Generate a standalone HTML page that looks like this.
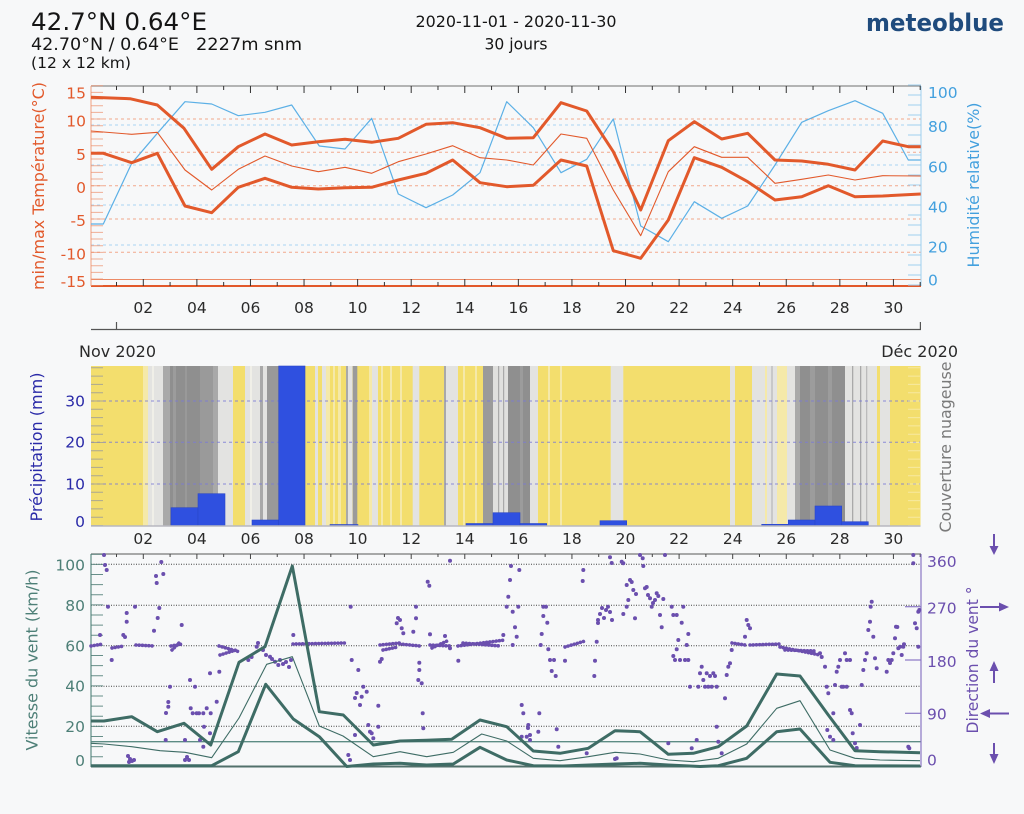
<!DOCTYPE html>
<html><head><meta charset="utf-8"><style>
html,body{margin:0;padding:0;background:#f7f8f9;}
svg{display:block;font-family:"DejaVu Sans","Liberation Sans",sans-serif;}
</style></head><body>
<svg width="1024" height="814" viewBox="0 0 1024 814" xmlns="http://www.w3.org/2000/svg">
<rect width="1024" height="814" fill="#f7f8f9"/>

<!-- HEADER -->
<text x="31" y="30" font-size="24" fill="#151515" textLength="176" lengthAdjust="spacingAndGlyphs">42.7°N 0.64°E</text>
<text x="31" y="50" font-size="17" fill="#151515" textLength="148" lengthAdjust="spacingAndGlyphs">42.70°N / 0.64°E</text>
<text x="196" y="50" font-size="17" fill="#151515" textLength="106" lengthAdjust="spacingAndGlyphs">2227m snm</text>
<text x="31" y="68" font-size="15" fill="#151515" textLength="100" lengthAdjust="spacingAndGlyphs">(12 x 12 km)</text>
<text x="516" y="27" font-size="16" fill="#151515" text-anchor="middle" textLength="201" lengthAdjust="spacingAndGlyphs">2020-11-01 - 2020-11-30</text>
<text x="516" y="49.5" font-size="16" fill="#151515" text-anchor="middle" textLength="63" lengthAdjust="spacingAndGlyphs">30 jours</text>
<text x="866" y="31" font-size="24" font-weight="bold" fill="#1f4b7d" textLength="138" lengthAdjust="spacingAndGlyphs">meteoblue</text>

<!-- ============ TOP CHART ============ -->
<g>
<g stroke="#f2a88c" stroke-width="1" stroke-dasharray="3 3">
<line x1="91" y1="119" x2="921" y2="119"/>
<line x1="91" y1="152.3" x2="921" y2="152.3"/>
<line x1="91" y1="185.7" x2="921" y2="185.7"/>
<line x1="91" y1="219" x2="921" y2="219"/>
<line x1="91" y1="252.3" x2="921" y2="252.3"/>
</g>
<g stroke="#a8d4f2" stroke-width="1" stroke-dasharray="3 3">
<line x1="91" y1="125" x2="921" y2="125"/>
<line x1="91" y1="165" x2="921" y2="165"/>
<line x1="91" y1="205" x2="921" y2="205"/>
<line x1="91" y1="245" x2="921" y2="245"/>
</g>
<line x1="91" y1="86" x2="921" y2="86" stroke="#8a8a8a" stroke-width="1.2"/>
<line x1="91" y1="279.5" x2="921" y2="279.5" stroke="#ec8a66" stroke-width="1"/>
<line x1="91" y1="286" x2="921" y2="286" stroke="#e2592b" stroke-width="2"/>
<line x1="91" y1="86" x2="91" y2="286" stroke="#f0a080" stroke-width="1"/>
<line x1="921" y1="86" x2="921" y2="286" stroke="#9fd0f0" stroke-width="1"/>
<line x1="97" y1="85.2" x2="97" y2="286" stroke="#ec8f6c" stroke-width="12" stroke-dasharray="1 5.667" opacity="0.7"/>
<line x1="914.5" y1="84.5" x2="914.5" y2="286" stroke="#9fd0f0" stroke-width="13" stroke-dasharray="1 9"/>
<line x1="142.8" y1="89.5" x2="921" y2="89.5" stroke="#333" stroke-width="7" stroke-dasharray="1 52.58"/>
<line x1="116" y1="88" x2="921" y2="88" stroke="#333" stroke-width="4" stroke-dasharray="1 52.58"/>
<line x1="142.8" y1="282.5" x2="921" y2="282.5" stroke="#333" stroke-width="7" stroke-dasharray="1 52.58"/>
<line x1="116" y1="284" x2="921" y2="284" stroke="#333" stroke-width="4" stroke-dasharray="1 52.58"/>

<polyline fill="none" stroke="#5cb0e6" stroke-width="1.2" stroke-linejoin="round" points="91,224 103.3,224 131.7,163.3 157.3,133.3 185,101.7 211.7,104 238.3,115.7 265,112.3 291.7,105 319.3,146 345,149 371.7,118.3 398.3,194 426,207.7 452.7,195 480,172.7 506.7,101.7 533.3,127.7 561,172.7 586.7,159.3 613.3,119 640.7,226 668.3,241.7 694.3,201.7 721.7,218.3 747.7,206 775,165 801.7,122.3 828.3,110.7 855,100.7 882.7,113.3 908.3,160 920.7,160"/>
<polyline fill="none" stroke="#e2592b" stroke-width="1.1" stroke-linejoin="round" points="91,131 131.7,134.3 157.3,132.3 185,170 211.7,190 238.3,169.3 265,156 291.7,166 318.3,171.7 345,167.3 371.7,173.3 398.3,161.7 426,154 452.7,145.7 480,157.7 506.7,160 533.3,165 561,134 586.7,138.3 613.3,190 640.7,235.7 668.3,171.7 694.3,146.7 721.7,157.3 747.7,157.3 775,183.3 801.7,179.3 828.3,175 855,180 882.7,175.7 920.7,176"/>
<polyline fill="none" stroke="#e2592b" stroke-width="3" stroke-linejoin="round" points="91,97.3 130,98.7 157.3,105 184,128.3 211.7,169.3 238.3,146.7 265,134 291.7,145 318.3,141.7 345,139.3 371.7,142.3 398.3,138.3 426,124.3 452.7,122.7 480,127.7 506.7,138.3 533.3,137.7 561,102.7 586.7,111 613.3,151.7 640.7,210 668.3,140.7 694.3,121.7 721.7,139 747.7,133.3 775,160 801.7,161 828.3,164.3 855,170 882.7,141 908.3,146.7 920.7,146.7"/>
<polyline fill="none" stroke="#e2592b" stroke-width="3" stroke-linejoin="round" points="91,153.3 103.3,153.3 131.7,162.7 157.3,153.3 185,206 211.7,212.7 238.3,187.3 265,178.3 291.7,187.3 318.3,189 345,187.7 371.7,187.3 398.3,180 426,173.3 452.7,160 480,182.7 506.7,186.7 533.3,185.3 561,160 586.7,166 613.3,250.7 640.7,258.3 668.3,220 694.3,157.7 721.7,167.3 747.7,181.7 775,200 801.7,196.7 828.3,185.7 855,196.7 882.7,196 920.7,194"/>

<g font-size="15.5" fill="#e2592b" text-anchor="end">
<text x="86" y="98.7">15</text>
<text x="86" y="126.7">10</text>
<text x="86" y="160">5</text>
<text x="86" y="193">0</text>
<text x="86" y="226">-5</text>
<text x="86" y="259.5">-10</text>
<text x="86" y="287">-15</text>
</g>
<g font-size="15.5" fill="#43a0de">
<text x="928" y="98">100</text>
<text x="928" y="132">80</text>
<text x="928" y="172.4">60</text>
<text x="928" y="212.4">40</text>
<text x="928" y="252.4">20</text>
<text x="928" y="285.4">0</text>
</g>
<text transform="translate(44,186) rotate(-90)" font-size="16" fill="#e2592b" text-anchor="middle" textLength="208" lengthAdjust="spacingAndGlyphs">min/max Température(°C)</text>
<text transform="translate(979,185) rotate(-90)" font-size="16" fill="#43a0de" text-anchor="middle" textLength="165" lengthAdjust="spacingAndGlyphs">Humidité relative(%)</text>
</g>

<g font-size="15.5" fill="#2a2a2a" text-anchor="middle">
<text x="143.3" y="313">02</text><text x="196.9" y="313">04</text><text x="250.5" y="313">06</text><text x="304" y="313">08</text><text x="357.6" y="313">10</text><text x="411.2" y="313">12</text><text x="464.8" y="313">14</text><text x="518.4" y="313">16</text><text x="571.9" y="313">18</text><text x="625.5" y="313">20</text><text x="679.1" y="313">22</text><text x="732.7" y="313">24</text><text x="786.3" y="313">26</text><text x="839.8" y="313">28</text><text x="893.4" y="313">30</text>
</g>
<line x1="91" y1="329.5" x2="921" y2="329.5" stroke="#555" stroke-width="1.2"/>
<line x1="116.5" y1="322" x2="116.5" y2="330" stroke="#555" stroke-width="1.2"/>
<line x1="920.4" y1="322" x2="920.4" y2="330" stroke="#555" stroke-width="1.2"/>
<text x="79" y="357" font-size="16" fill="#2a2a2a">Nov 2020</text>
<text x="958" y="357" font-size="16" fill="#2a2a2a" text-anchor="end">Déc 2020</text>

<!-- ============ MIDDLE CHART ============ -->
<g>
<rect x="91" y="366" width="829.5" height="160" fill="#f3de6d"/>
<g>
<rect x="143" y="366" width="5" height="160" fill="#f5e9a9"/>
<rect x="148" y="366" width="15" height="160" fill="#e3e3e1"/>
<rect x="152" y="366" width="2" height="160" fill="#f0efe8"/>
<rect x="163" y="366" width="7" height="160" fill="#a9a9a9"/>
<rect x="170" y="366" width="43" height="160" fill="#8f8f8f"/>
<rect x="173" y="366" width="3" height="160" fill="#9c9c9c"/>
<rect x="185" y="366" width="2" height="160" fill="#999"/>
<rect x="200" y="366" width="13" height="160" fill="#9a9a9a"/>
<rect x="213" y="366" width="5" height="160" fill="#a9a9a9"/>
<rect x="218" y="366" width="15" height="160" fill="#e3e3e1"/>
<rect x="245" y="366" width="15" height="160" fill="#e3e3e1"/>
<rect x="250" y="366" width="2" height="160" fill="#f0efe8"/>
<rect x="260" y="366" width="3" height="160" fill="#a9a9a9"/>
<rect x="263" y="366" width="4" height="160" fill="#e3e3e1"/>
<rect x="267" y="366" width="12" height="160" fill="#999"/>
<rect x="279" y="366" width="26" height="160" fill="#8f8f8f"/>
<rect x="315" y="366" width="3" height="160" fill="#e3e3e1"/>
<rect x="322" y="366" width="4" height="160" fill="#e3e3e1"/>
<rect x="326" y="366" width="4" height="160" fill="#f5e9a9"/>
<rect x="333" y="366" width="2" height="160" fill="#f5e9a9"/>
<rect x="338" y="366" width="3" height="160" fill="#f5e9a9"/>
<rect x="346" y="366" width="2" height="160" fill="#a9a9a9"/>
<rect x="348" y="366" width="4.5" height="160" fill="#e3e3e1"/>
<rect x="352.7" y="366" width="4.6" height="160" fill="#9a9a9a"/>
<rect x="369" y="366" width="3" height="160" fill="#f5e9a9"/>
<rect x="372" y="366" width="6" height="160" fill="#e3e3e1"/>
<rect x="381" y="366" width="2" height="160" fill="#f5e9a9"/>
<rect x="390" y="366" width="2" height="160" fill="#f5e9a9"/>
<rect x="400" y="366" width="2" height="160" fill="#f5e9a9"/>
<rect x="412.7" y="366" width="6.6" height="160" fill="#e3e3e1"/>
<rect x="444" y="366" width="2" height="160" fill="#a9a9a9"/>
<rect x="446" y="366" width="12" height="160" fill="#e3e3e1"/>
<rect x="463" y="366" width="2" height="160" fill="#f5e9a9"/>
<rect x="475" y="366" width="2" height="160" fill="#f5e9a9"/>
<rect x="483" y="366" width="10" height="160" fill="#9a9a9a"/>
<rect x="493" y="366" width="15" height="160" fill="#e0e0de"/>
<rect x="498" y="366" width="1.2" height="160" fill="#a9a9a9"/>
<rect x="503" y="366" width="1.2" height="160" fill="#a9a9a9"/>
<rect x="508" y="366" width="22" height="160" fill="#8f8f8f"/>
<rect x="520" y="366" width="3" height="160" fill="#9c9c9c"/>
<rect x="530" y="366" width="8" height="160" fill="#e3e3e1"/>
<rect x="548" y="366" width="2" height="160" fill="#f5e9a9"/>
<rect x="560" y="366" width="2" height="160" fill="#f5e9a9"/>
<rect x="610.7" y="366" width="12.6" height="160" fill="#e3e3e1"/>
<rect x="730" y="366" width="5" height="160" fill="#e3e3e1"/>
<rect x="752" y="366" width="10" height="160" fill="#e3e3e1"/>
<rect x="762" y="366" width="3" height="160" fill="#e3e3e1"/>
<rect x="765" y="366" width="2" height="160" fill="#f5e9a9"/>
<rect x="767" y="366" width="4" height="160" fill="#e3e3e1"/>
<rect x="771" y="366" width="2" height="160" fill="#c8c8c8"/>
<rect x="773" y="366" width="4" height="160" fill="#e3e3e1"/>
<rect x="777" y="366" width="10" height="160" fill="#f5e9a9"/>
<rect x="787" y="366" width="8" height="160" fill="#e3e3e1"/>
<rect x="795" y="366" width="5" height="160" fill="#a9a9a9"/>
<rect x="800" y="366" width="45" height="160" fill="#8f8f8f"/>
<rect x="810" y="366" width="5" height="160" fill="#9c9c9c"/>
<rect x="828" y="366" width="4" height="160" fill="#9c9c9c"/>
<rect x="845" y="366" width="32" height="160" fill="#e3e3e1"/>
<rect x="852" y="366" width="1.3" height="160" fill="#a9a9a9"/>
<rect x="860" y="366" width="1.3" height="160" fill="#a9a9a9"/>
<rect x="866" y="366" width="1.3" height="160" fill="#bbb"/>
<rect x="880" y="366" width="10" height="160" fill="#e3e3e1"/>
</g>
<g stroke="#7a7ad6" stroke-width="1" stroke-dasharray="3 3" opacity="0.85">
<line x1="91" y1="401" x2="920" y2="401"/>
<line x1="91" y1="442.3" x2="920" y2="442.3"/>
<line x1="91" y1="484" x2="920" y2="484"/>
</g>
<g fill="#2f50e0" stroke="#2a46c8" stroke-width="0.6">
<rect x="171" y="507.7" width="27" height="18"/>
<rect x="198" y="493.7" width="27" height="32"/>
<rect x="252" y="520" width="26.7" height="5.7"/>
<rect x="278.7" y="366" width="26.3" height="159.7"/>
<rect x="330" y="524.5" width="28" height="1.2"/>
<rect x="466" y="523.5" width="27" height="2.2"/>
<rect x="493" y="512.7" width="27" height="13"/>
<rect x="520" y="523.5" width="26.7" height="2.2"/>
<rect x="600" y="520.7" width="26.7" height="5"/>
<rect x="761.7" y="524.3" width="26.6" height="1.4"/>
<rect x="788.3" y="520" width="26.7" height="5.7"/>
<rect x="815" y="506" width="26.7" height="19.7"/>
<rect x="841.7" y="521.7" width="26.6" height="4"/>
</g>
<line x1="97" y1="367.3" x2="97" y2="526" stroke="#9a9a9a" stroke-width="12" stroke-dasharray="1 7.3" opacity="0.8"/>
<line x1="914" y1="367.3" x2="914" y2="526" stroke="#ffffff" stroke-width="12" stroke-dasharray="1 7.3" opacity="0.35"/>
<line x1="91" y1="526" x2="920.5" y2="526" stroke="#b8b8c0" stroke-width="1.5"/>
<g font-size="15.5" fill="#2a2aa8" text-anchor="end">
<text x="85" y="406.4">30</text>
<text x="85" y="447.7">20</text>
<text x="85" y="489.4">10</text>
<text x="85" y="527">0</text>
</g>
<text transform="translate(42,447) rotate(-90)" font-size="16" fill="#2a2aa8" text-anchor="middle" textLength="149" lengthAdjust="spacingAndGlyphs">Précipitation (mm)</text>
<text transform="translate(951,447) rotate(-90)" font-size="16" fill="#7a7a7a" text-anchor="middle" textLength="171" lengthAdjust="spacingAndGlyphs">Couverture nuageuse</text>
</g>
<g font-size="15.5" fill="#2a2a2a" text-anchor="middle">
<text x="143.3" y="544">02</text><text x="196.9" y="544">04</text><text x="250.5" y="544">06</text><text x="304" y="544">08</text><text x="357.6" y="544">10</text><text x="411.2" y="544">12</text><text x="464.8" y="544">14</text><text x="518.4" y="544">16</text><text x="571.9" y="544">18</text><text x="625.5" y="544">20</text><text x="679.1" y="544">22</text><text x="732.7" y="544">24</text><text x="786.3" y="544">26</text><text x="839.8" y="544">28</text><text x="893.4" y="544">30</text>
</g>

<!-- ============ BOTTOM CHART ============ -->
<g>
<g stroke="#444" stroke-width="1" stroke-dasharray="1 1.5">
<line x1="91" y1="564.3" x2="921" y2="564.3"/>
<line x1="91" y1="605.3" x2="921" y2="605.3"/>
<line x1="91" y1="645.8" x2="921" y2="645.8"/>
<line x1="91" y1="686.3" x2="921" y2="686.3"/>
<line x1="91" y1="726.3" x2="921" y2="726.3"/>
</g>
<line x1="91" y1="741.7" x2="921" y2="741.7" stroke="#5d8c84" stroke-width="1.4"/>
<line x1="91" y1="554" x2="921" y2="554" stroke="#777" stroke-width="1.2"/>
<line x1="142.8" y1="556.5" x2="921" y2="556.5" stroke="#444" stroke-width="5" stroke-dasharray="1 52.58"/>
<line x1="116" y1="555.5" x2="921" y2="555.5" stroke="#444" stroke-width="3" stroke-dasharray="1 52.58"/>
<line x1="91" y1="554" x2="91" y2="767" stroke="#5d8c84" stroke-width="1.2"/>
<line x1="97" y1="553.7" x2="97" y2="767" stroke="#4f7d76" stroke-width="12" stroke-dasharray="1 9.125" opacity="0.85"/>
<line x1="921" y1="554" x2="921" y2="767" stroke="#8a76c4" stroke-width="1.2"/>
<g stroke="#8a76c4" stroke-width="1.2">
<line x1="905" y1="606.7" x2="921" y2="606.7"/>
<line x1="905" y1="660" x2="921" y2="660"/>
<line x1="905" y1="713.3" x2="921" y2="713.3"/>
</g>
<line x1="91" y1="766.5" x2="921" y2="766.5" stroke="#52706b" stroke-width="2"/>

<g fill="none" stroke="#6b4fae" stroke-width="3.6" stroke-linecap="round" stroke-dasharray="0.01 3.2">
<path d="M91 646L103 644"/>
<path d="M112 648L124 646"/>
<path d="M136 645L154 646"/>
<path d="M171 646L182 644M172 650L181 641"/>
<path d="M219 646L240 652M220 655L236 650"/>
<path d="M293 644L345 643"/>
<path d="M380 645L400 643M383 650L398 647"/>
<path d="M400 644L420 646"/>
<path d="M430 645L450 646M432 648L447 641"/>
<path d="M458 646L505 640M463 643L500 646"/>
<path d="M565 647L585 641"/>
<path d="M732 643L745 645"/>
<path d="M750 645L780 644"/>
<path d="M780 647L820 655M785 650L815 651"/>
</g>
<path fill="none" stroke="#6b4fae" stroke-width="4" stroke-linecap="round" d="M104 555h.01M105 565h.01M106.7 570h.01M108 606.7h.01M100 635h.01M111.7 660h.01M125 637h.01M126.7 613h.01M126.7 621.7h.01M123.3 635h.01M135 606.7h.01M156 576h.01M156.7 583h.01M159.3 608h.01M157.7 618h.01M154 630.7h.01M161.3 562h.01M163.3 574h.01M128 756h.01M130 759h.01M132 761h.01M134 760h.01M129 762h.01M165.7 740h.01M170 686.7h.01M168.3 702h.01M168.3 706.7h.01M166 713h.01M181.7 625h.01M185 740h.01M185 760h.01M189 760h.01M187 757h.01M190 680h.01M195 686.7h.01M190.7 708.3h.01M196.7 713.3h.01M203.3 713.3h.01M192.7 713.3h.01M199 713.3h.01M206.7 708.3h.01M210 673.3h.01M210.7 713.3h.01M200 740h.01M203.3 746.7h.01M204 726.7h.01M210 733.3h.01M216.7 701.7h.01M219.3 671.7h.01M248.3 660h.01M251.6 657h.01M256.7 646.7h.01M258 643h.01M263 650h.01M266 655h.01M270 656.7h.01M275 661.7h.01M278.3 665h.01M272 659h.01M280 660h.01M283 664h.01M286 662h.01M289 667h.01M291 660h.01M293.3 635h.01
M350.7 606.7h.01M351.7 660h.01M358.3 670h.01M355 698h.01M356.7 693h.01M361.7 696.7h.01M360 705h.01M363.3 686.7h.01M366.7 691.7h.01M355 735h.01M348.3 755h.01M350 760h.01M368.3 725h.01M370 731.7h.01M371.7 733.3h.01M373.3 738.3h.01M378.3 726.7h.01M378.3 705.7h.01M380 661.7h.01M381.7 659h.01M396.7 623.3h.01M400 620h.01M401.7 628.3h.01M403.3 633.3h.01M398 618h.01M413.3 631.7h.01M416 618.3h.01M416 606.7h.01M419.3 662.7h.01M419.3 670h.01M418.3 680h.01M421.7 683.3h.01M422.7 713.3h.01M423.3 728.3h.01M427.7 581.7h.01M429.3 585.7h.01M430 634.3h.01M445 636h.01M450 560.7h.01M450 648.3h.01M458.3 660.7h.01M503.3 635h.01M506.7 606.7h.01M508.3 596.7h.01M510 580h.01M511 566h.01M512.7 611.7h.01M515 627.3h.01M512.7 645h.01M516.7 636.7h.01M519.3 570h.01M518.3 606.7h.01M521.7 705h.01M523.3 713.3h.01M528.3 725h.01M526.7 736.7h.01M530 740h.01M521.7 736.7h.01M539.3 713.3h.01M538.3 731.7h.01M528 728h.01M530 735h.01M543.3 606.7h.01M546 606.7h.01M543.3 616h.01M547.3 622.7h.01M541.7 634h.01M540.7 645h.01M548.3 649.3h.01M550 660h.01M554 660h.01M551.7 671h.01M555.7 676h.01M556.7 729.3h.01M558.3 746.7h.01M565 660.7h.01M583.3 570h.01M582.7 581h.01M586.7 753.3h.01M595 660.7h.01M594.3 676h.01M596.7 641.7h.01M598 620h.01M600 614h.01M602 608h.01M604 618h.01M606 610h.01M608 606.7h.01M610 612h.01M612 620h.01M598 623h.01M610 557.3h.01M611.7 563h.01M621.7 561.7h.01M623.3 563.3h.01M616.7 758.3h.01M615 759h.01M626.7 585h.01M630 580h.01M631.7 582h.01M633.3 590h.01M628.3 600h.01M626.7 606.7h.01M623.3 614h.01M635 618.3h.01M636 594h.01M640 555h.01M642.7 558.3h.01M643.3 566h.01M645 588.3h.01M646.7 587h.01M650 598.3h.01M651.7 606.7h.01M655 600h.01M656.7 593.3h.01M658.3 596h.01M660 615h.01M661.7 627.3h.01M663.3 599h.01M653 603h.01M648 595h.01M665 555h.01M668.3 743.3h.01M671.7 606.7h.01M673.3 615h.01M676.7 615h.01M678.3 640h.01M676.7 649.3h.01M673.3 656h.01M675 660h.01M680 660h.01M683.3 606.7h.01M681.7 622.7h.01M685 660h.01M688.3 660h.01M688.3 634h.01M686.7 645h.01M690 686.7h.01M691.7 748.3h.01M696.7 740h.01M698.3 686.7h.01M700 673.3h.01M701.7 666.7h.01M703.3 680h.01M705 686.7h.01M706.7 673.3h.01M708.3 686.7h.01
M710 676h.01M711.7 686.7h.01M713.3 673.3h.01M715 676h.01M716.7 686.7h.01M716.7 726.7h.01M718.3 741.7h.01M721.7 753.3h.01M725 698.3h.01M726.7 675h.01M728.3 666.7h.01M730 663.3h.01M731.7 650h.01M745 636.7h.01M746.7 620h.01M748.3 625h.01M750 628.3h.01M820 653.3h.01M821.7 657h.01M825 666.7h.01M826.7 686.7h.01M828.3 693.3h.01M827.3 730h.01M830 736.7h.01M833.3 740h.01M833.3 713.3h.01M835 685h.01M836.7 671.7h.01M838.3 666.7h.01M840 660h.01M841.7 686.7h.01M843.3 686.7h.01M846.7 686.7h.01M845 653.3h.01M846.7 660h.01M850 660h.01M850 710h.01M851.7 713.3h.01M852.7 733.3h.01M855 743.3h.01M856.7 748h.01M860 725h.01M861.7 685h.01M863.3 670h.01M865 660h.01M866.7 653.3h.01M868.3 630h.01M870 621.7h.01M870.7 606.7h.01M871.7 601.7h.01M873.3 636.7h.01M875 658.3h.01M876.7 668.3h.01M886.7 671.7h.01M888.3 660h.01M890 663h.01M891.7 660h.01M893.3 653.3h.01M895 638.3h.01M896 626.7h.01M897.3 627h.01M898.3 648.3h.01M900 646.7h.01M901.7 655h.01M903.3 646.7h.01M904 644.3h.01M908.3 746.7h.01M909.3 748.3h.01M913.3 563.3h.01M913.3 555h.01M915 623.3h.01M916.7 628.3h.01M918.3 611.7h.01M919.3 610h.01M918.3 646.7h.01"/>

<polyline fill="none" stroke="#3e6c65" stroke-width="1.1" stroke-linejoin="round" points="91,743.3 104,744 131.7,746.7 160,750.7 185,752.3 211.7,757.7 239,718 266.7,664.3 292.3,656.7 319.3,726 343,736 373.3,756.7 400,751.7 426.7,756.7 453.3,752.3 481.7,734 506.7,741 533.3,758.3 560,760.7 588.3,756.7 615,752.3 640,754 668.3,760 693.3,761.7 718.3,758.3 746.7,744 776.7,708.3 800,700.7 830,750 855,758.3 880,760 920,760.7"/>
<polyline fill="none" stroke="#3e6c65" stroke-width="3" stroke-linejoin="round" points="91,721 104,721 131.7,716.7 157.3,731.7 184,723.3 210.7,745 239,662.3 265,646.7 292.3,566 319.3,711.7 343.3,715 373.3,745 400,741 426.7,740.3 451.7,739.3 480,720 506.7,726.7 533.3,751 560,753.3 588.3,748.3 615,730.7 640,731.7 668.3,754.3 693.3,753.3 718.3,746.7 746.7,726 776.7,674 800,676 828.3,715 855,750.7 880,751.7 920,752.7"/>
<polyline fill="none" stroke="#3e6c65" stroke-width="3" stroke-linejoin="round" points="91,765.7 211.7,765.7 238.3,751.7 265.7,684.3 293.3,719 319.3,736.7 346.7,766.5 373.3,764 400,763.3 426.7,765 453.3,764 480,747.3 506.7,760 533.3,765.7 563.3,766 615,764 640,763.3 668.3,765 700,766.5 718.3,765.7 746.7,758.3 776.7,731.7 800,729 830,762.3 855,765.7 920,766"/>

<g font-size="15.5" fill="#4d7f77" text-anchor="end">
<text x="85" y="570.4">100</text>
<text x="85" y="611">80</text>
<text x="85" y="651.4">60</text>
<text x="85" y="691.4">40</text>
<text x="85" y="732">20</text>
<text x="85" y="766">0</text>
</g>
<g font-size="15.5" fill="#6b4fae">
<text x="927" y="567">360</text>
<text x="927" y="613.4">270</text>
<text x="927" y="667">180</text>
<text x="927" y="719.4">90</text>
<text x="927" y="765.4">0</text>
</g>
<text transform="translate(37.5,660) rotate(-90)" font-size="16" fill="#4d7f77" text-anchor="middle" textLength="181" lengthAdjust="spacingAndGlyphs">Vitesse du vent (km/h)</text>
<text transform="translate(978,660) rotate(-90)" font-size="16" fill="#6b4fae" text-anchor="middle" textLength="147" lengthAdjust="spacingAndGlyphs">Direction du vent °</text>

<g stroke="#6b4fae" stroke-width="2" fill="#6b4fae">
<line x1="994" y1="534" x2="994" y2="549"/>
<polygon points="989.5,546 998.5,546 994,555" stroke="none"/>
<line x1="980" y1="607" x2="1002" y2="607"/>
<polygon points="999,602.5 999,611.5 1009,607" stroke="none"/>
<line x1="994" y1="668" x2="994" y2="683"/>
<polygon points="989.5,671 998.5,671 994,661" stroke="none"/>
<line x1="987" y1="713.5" x2="1009" y2="713.5"/>
<polygon points="990,709 990,718 980,713.5" stroke="none"/>
<line x1="994" y1="743" x2="994" y2="757"/>
<polygon points="989.5,754 998.5,754 994,764" stroke="none"/>
</g>
</g>
</svg>
</body></html>
